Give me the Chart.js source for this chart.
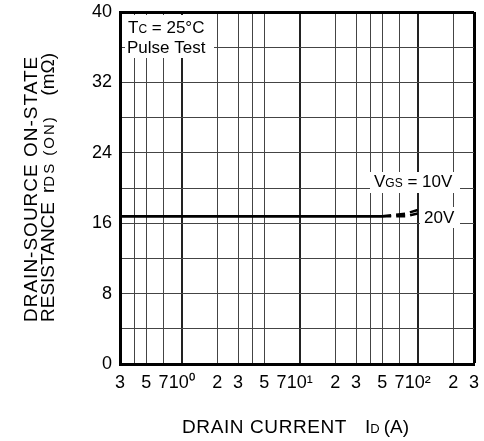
<!DOCTYPE html>
<html>
<head>
<meta charset="utf-8">
<script src="https://cdn.jsdelivr.net/npm/chart.js@4/dist/chart.umd.min.js"></script>
<style>
  html, body { margin: 0; padding: 0; background: #fff; }
  canvas { display: block; }
</style>
</head>
<body>
<canvas id="chart" width="484" height="441"></canvas>
<script>
// Data
const currentA = [0.3, 50, 80, 100];
const rds10V = [16.8, 16.8, 17.1, 17.5];
const rds20V = [16.8, 16.8, 16.8, 17.1];

// Axis ticks (grid lines + labels)
const xTicks = [0.3, 0.4, 0.5, 0.7, 1, 2, 3, 4, 5, 7, 10, 20, 30, 40, 50, 70, 100, 200, 300];
const xTickLabels = ['3', '', '5', '7', '10\u2070', '2', '3', '', '5', '7', '10\u00b9', '2', '3', '', '5', '7', '10\u00b2', '2', '3'];
const xNoGrid = [7];
const yTicks = [0, 4, 8, 12, 16, 20, 24, 28, 32, 36, 40];
const yTickLabels = ['0', '', '8', '', '16', '', '24', '', '32', '', '40'];

const FONT = '"Liberation Sans", Arial, Helvetica, sans-serif';
Chart.defaults.font.family = FONT;
Chart.defaults.color = '#000';

// draw text made of runs with different sizes on one baseline
const drawRuns = (ctx, x, y, runs) => {
  let cx = x;
  runs.forEach(r => {
    ctx.font = r.size + 'px ' + FONT;
    ctx.letterSpacing = (r.spacing || 0) + 'px';
    ctx.fillText(r.text, cx, y);
    cx += ctx.measureText(r.text).width + (r.gap || 0);
  });
  ctx.letterSpacing = '0px';
};

const runsWidth = (ctx, runs) => runs.reduce((w, r) => {
  ctx.font = r.size + 'px ' + FONT;
  return w + ctx.measureText(r.text).width + (r.gap || 0);
}, 0);

// Labels, boxes and axis titles
const textPlugin = {
  id: 'texts',
  afterDatasetsDraw(chart) {
    const ctx = chart.ctx;
    ctx.save();
    ctx.fillStyle = '#fff';
    ctx.fillRect(125, 15, 89, 43);
    ctx.fillRect(370, 172, 90, 21);
    ctx.fillRect(420, 207, 40, 21);
    ctx.fillStyle = '#000';
    ctx.textBaseline = 'alphabetic';
    drawRuns(ctx, 128, 33, [{ text: 'T', size: 17 }, { text: 'C', size: 12 }, { text: ' = 25\u00b0C', size: 17 }]);
    drawRuns(ctx, 127, 53, [{ text: 'Pulse Test', size: 17 }]);
    drawRuns(ctx, 374, 187, [{ text: 'V', size: 17 }, { text: 'GS', size: 12 }, { text: ' = 10V', size: 17 }]);
    drawRuns(ctx, 424, 223, [{ text: '20V', size: 17 }]);
    ctx.restore();
  },
  afterDraw(chart) {
    const ctx = chart.ctx;
    ctx.save();
    ctx.fillStyle = '#000';
    ctx.textBaseline = 'alphabetic';
    // x title
    drawRuns(ctx, 182, 433, [{ text: 'DRAIN CURRENT', size: 19, spacing: 0.6 }]);
    drawRuns(ctx, 365, 433, [{ text: 'I', size: 19 }, { text: 'D', size: 13, gap: 4 }, { text: '(A)', size: 19 }]);
    // y title, two rotated lines
    ctx.translate(37, 322);
    ctx.rotate(-Math.PI / 2);
    drawRuns(ctx, 0, 0, [{ text: 'DRAIN-SOURCE ON-STATE', size: 19, spacing: 1 }]);
    ctx.translate(0, 16.5);
    drawRuns(ctx, 0, 0, [{ text: 'RESISTANCE', size: 19 }]);
    drawRuns(ctx, 129, 0, [{ text: 'r', size: 19 }, { text: 'DS (ON)', size: 15, spacing: 2 }]);
    const unit = [{ text: '(m\u03a9)', size: 19 }];
    drawRuns(ctx, 269 - runsWidth(ctx, unit), 0, unit);
    ctx.restore();
  }
};

const isDecade = v => v === 1 || v === 10 || v === 100;

new Chart(document.getElementById('chart'), {
  type: 'line',
  data: {
    datasets: [
      {
        label: 'VGS = 10V',
        data: currentA.map((x, i) => ({ x, y: rds10V[i] })),
        borderColor: '#000',
        borderWidth: 2.5,
        pointRadius: 0,
        tension: 0,
        segment: { borderDash: c => (c.p0.parsed.x >= 50 ? [9, 5] : undefined) }
      },
      {
        label: 'VGS = 20V',
        data: currentA.map((x, i) => ({ x, y: rds20V[i] })),
        borderColor: '#000',
        borderWidth: 2.5,
        pointRadius: 0,
        tension: 0,
        segment: { borderDash: c => (c.p0.parsed.x >= 50 ? [9, 5] : undefined) }
      }
    ]
  },
  options: {
    responsive: false,
    animation: false,
    events: [],
    layout: { padding: { top: 12, right: 10, left: 0, bottom: 0 } },
    plugins: { legend: { display: false }, tooltip: { enabled: false } },
    scales: {
      x: {
        type: 'logarithmic',
        min: 0.3,
        max: 300,
        afterBuildTicks: s => { s.ticks = xTicks.map(v => ({ value: v })); },
        afterFit: s => { s.height = 77; s.paddingLeft = 0; s.paddingRight = 0; },
        ticks: {
          autoSkip: false,
          maxRotation: 0,
          minRotation: 0,
          padding: 8,
          color: '#000',
          font: { size: 18 },
          callback: (v, i) => xTickLabels[i]
        },
        grid: {
          drawTicks: false,
          color: c => {
            const v = c.tick && c.tick.value;
            if (xNoGrid.includes(v)) return 'rgba(0,0,0,0)';
            if (v === 300) return '#000';
            return isDecade(v) ? '#222' : '#444';
          },
          lineWidth: c => {
            const v = c.tick && c.tick.value;
            if (v === 300) return 3;
            return isDecade(v) ? 2 : 1;
          }
        },
        border: { color: '#000', width: 3 }
      },
      y: {
        min: 0,
        max: 40,
        afterBuildTicks: s => { s.ticks = yTicks.map(v => ({ value: v })); },
        afterFit: s => { s.width = 120; s.paddingTop = 0; s.paddingBottom = 0; },
        ticks: {
          padding: 8,
          color: '#000',
          font: { size: 18 },
          callback: (v, i) => yTickLabels[i]
        },
        grid: {
          drawTicks: false,
          color: c => (c.tick && c.tick.value === 40 ? '#000' : '#444'),
          lineWidth: c => (c.tick && c.tick.value === 40 ? 3 : 1)
        },
        border: { color: '#000', width: 3 }
      }
    }
  },
  plugins: [textPlugin]
});
</script>
</body>
</html>
